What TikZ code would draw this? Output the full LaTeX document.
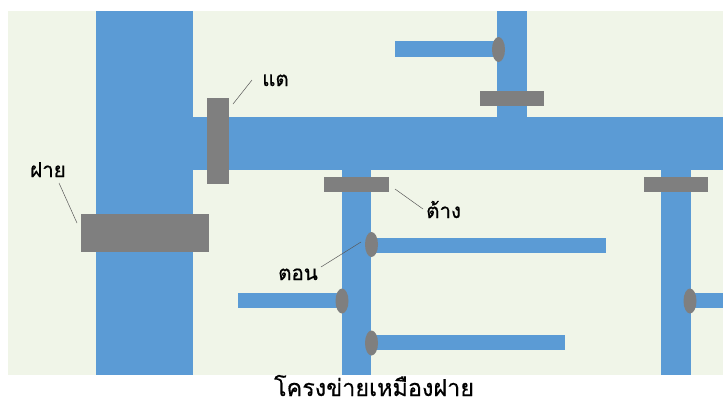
\documentclass[tikz,border=0pt]{standalone}
\usepackage{fontspec}
\newfontfamily\thaifont[Script=Thai,FakeBold=0.5]{Loma}
\usetikzlibrary{shapes.geometric}
\definecolor{bg}{RGB}{240,245,232}
\definecolor{pipe}{RGB}{91,155,213}
\definecolor{gate}{RGB}{127,127,127}
\begin{document}
\begin{tikzpicture}[x=1pt,y=-1pt,
  pipebar/.style={fill=pipe},
  plate/.style={fill=gate},
  knob/.style={ellipse, fill=gate, minimum width=13pt, minimum height=25pt, inner sep=0pt},
  lbl/.style={font=\thaifont\fontsize{20.5}{24}\selectfont, inner sep=0pt, anchor=base west},
  ttl/.style={font=\thaifont\fontsize{23.4}{28}\selectfont, inner sep=0pt, anchor=base},
  leader/.style={draw=black!65, line width=0.5pt}]
\useasboundingbox (0,0) rectangle (723,405);
\fill[bg] (8,11) rectangle (723,375);
% pipes
\fill[pipebar] (96,11) rectangle (193,375);
\fill[pipebar] (193,117) rectangle (723,170);
\fill[pipebar] (497,11) rectangle (527,117);
\fill[pipebar] (395,41) rectangle (497,57);
\fill[pipebar] (342,170) rectangle (371,375);
\fill[pipebar] (661,170) rectangle (691,375);
\fill[pipebar] (371,238) rectangle (606,253);
\fill[pipebar] (371,335) rectangle (565,350);
\fill[pipebar] (238,293) rectangle (342,308);
\fill[pipebar] (691,293) rectangle (723,308);
% plates
\fill[plate] (207,98) rectangle (229,184);
\fill[plate] (81,214) rectangle (209,252);
\fill[plate] (480,91) rectangle (544,106);
\fill[plate] (324,177) rectangle (389,192);
\fill[plate] (644,177) rectangle (708,192);
% knobs
\node[knob] (k1) at (498.5,49.5) {};
\node[knob] (k2) at (371.5,244.5) {};
\node[knob] (k3) at (371.5,343) {};
\node[knob] (k4) at (342,301) {};
\node[knob] (k5) at (690,301) {};
% labels
\node[lbl] (tae) at (262,86) {แต};
\node[lbl] (fai) at (30,177) {ฝาย};
\node[lbl] (tang) at (426,218) {ต้าง};
\node[lbl] (ton) at (278,280) {ตอน};
\node[ttl] (title) at (374,396) {โครงข่ายเหมืองฝาย};
% leader lines
\coordinate (taeA) at (233,104);
\coordinate (taeB) at (252,80);
\coordinate (faiA) at (77,223);
\coordinate (faiB) at (59,183);
\coordinate (tangA) at (395,189);
\coordinate (tangB) at (423,209);
\coordinate (tonA) at (361,242);
\coordinate (tonB) at (321,267);
\draw[leader] (taeA) -- (taeB);
\draw[leader] (faiA) -- (faiB);
\draw[leader] (tangA) -- (tangB);
\draw[leader] (tonA) -- (tonB);
\end{tikzpicture}
\end{document}
